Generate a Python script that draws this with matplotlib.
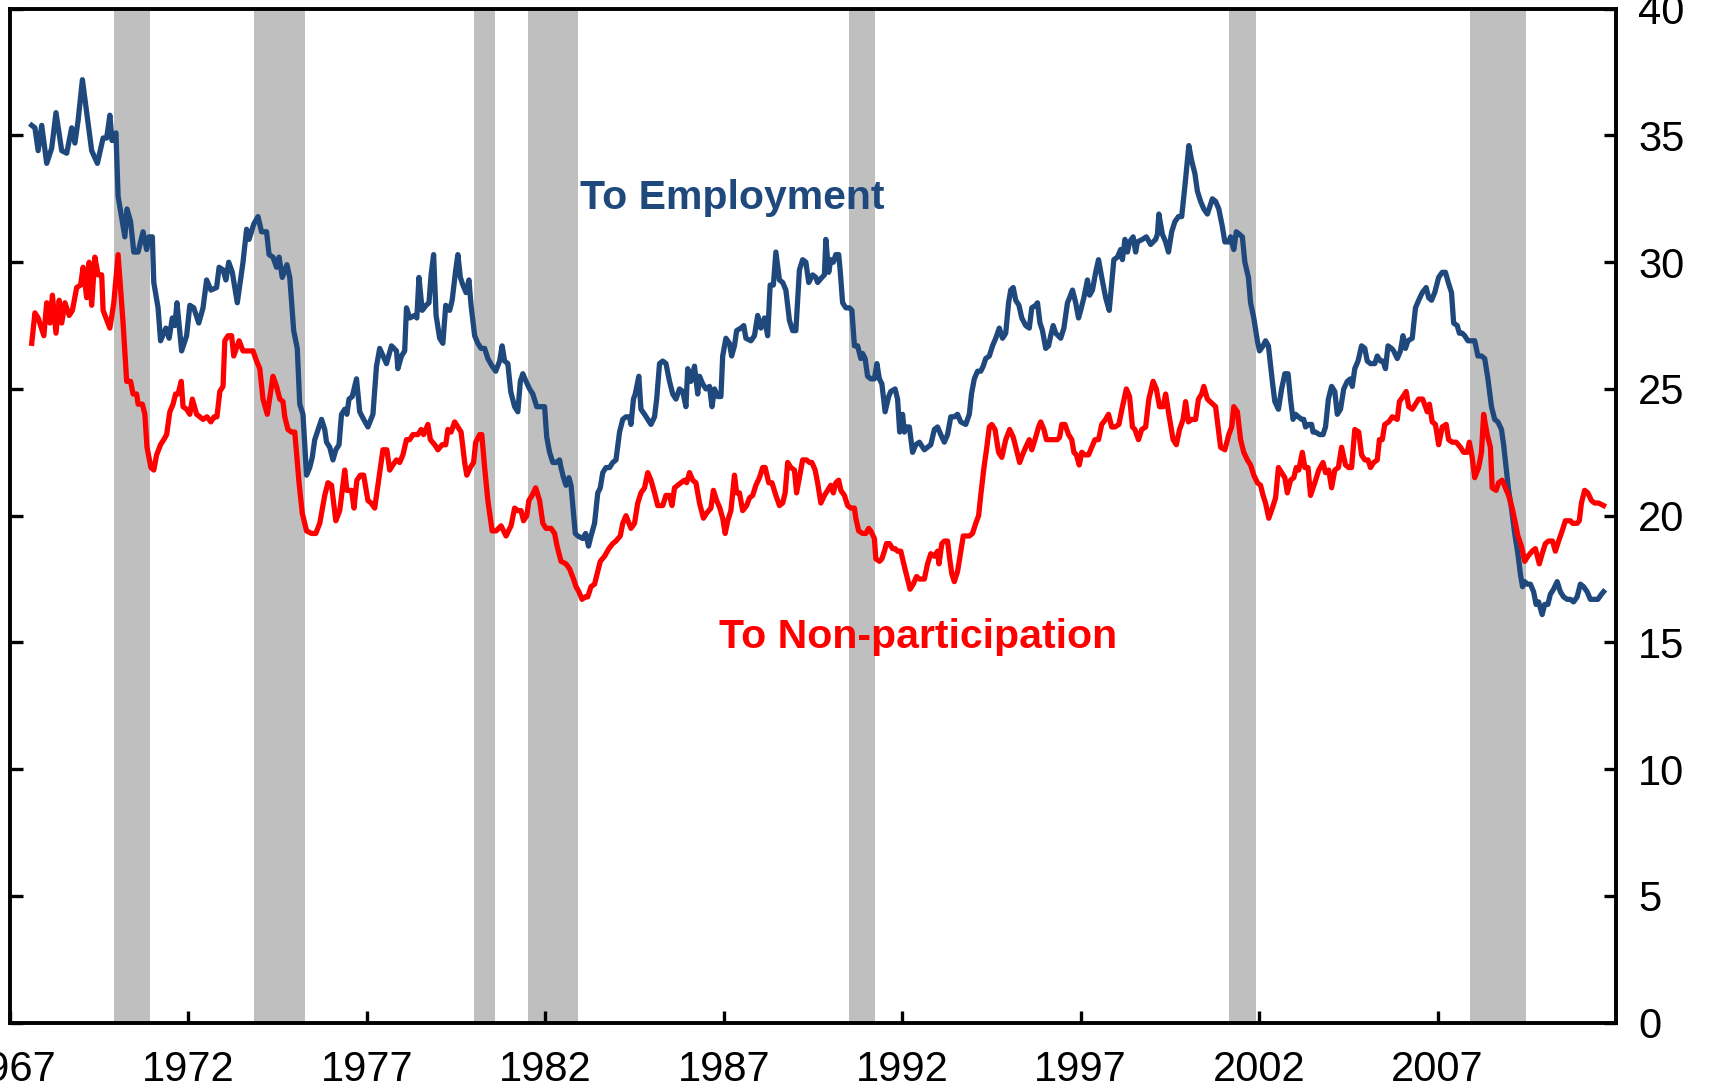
import matplotlib
matplotlib.use("Agg")
import matplotlib.pyplot as plt

plt.rcParams['font.family'] = ['Liberation Sans', 'DejaVu Sans']

# monthly flow rates out of unemployment (percent)
emp_year = [
    1967.61, 1967.70, 1967.79, 1967.89, 1968.03, 1968.17, 1968.29, 1968.45, 1968.59, 1968.73,
    1968.82, 1968.91, 1969.03, 1969.29, 1969.45, 1969.61, 1969.71, 1969.80, 1969.86, 1969.97,
    1970.03, 1970.22, 1970.28, 1970.38, 1970.47, 1970.59, 1970.73, 1970.83, 1970.90, 1970.99,
    1971.03, 1971.15, 1971.22, 1971.37, 1971.46, 1971.55, 1971.62, 1971.68, 1971.81, 1971.95,
    1972.04, 1972.15, 1972.29, 1972.41, 1972.51, 1972.63, 1972.79, 1972.86, 1972.97, 1973.05,
    1973.13, 1973.23, 1973.37, 1973.53, 1973.63, 1973.70, 1973.83, 1973.95, 1974.05, 1974.19,
    1974.26, 1974.37, 1974.47, 1974.54, 1974.63, 1974.76, 1974.84, 1974.95, 1975.05, 1975.12,
    1975.21, 1975.31, 1975.40, 1975.47, 1975.54, 1975.73, 1975.82, 1975.87, 1975.96, 1976.05,
    1976.13, 1976.22, 1976.29, 1976.38, 1976.44, 1976.50, 1976.59, 1976.71, 1976.80, 1976.91,
    1977.03, 1977.17, 1977.27, 1977.36, 1977.55, 1977.69, 1977.83, 1977.87, 1977.97, 1978.06,
    1978.11, 1978.20, 1978.34, 1978.40, 1978.46, 1978.55, 1978.66, 1978.74, 1978.80, 1978.87,
    1978.94, 1979.04, 1979.13, 1979.21, 1979.32, 1979.39, 1979.49, 1979.55, 1979.62, 1979.69,
    1979.78, 1979.86, 1979.92, 1980.02, 1980.11, 1980.20, 1980.30, 1980.39, 1980.51, 1980.61,
    1980.72, 1980.79, 1980.86, 1980.95, 1981.03, 1981.14, 1981.23, 1981.30, 1981.37, 1981.46,
    1981.56, 1981.65, 1981.76, 1981.88, 1981.98, 1982.04, 1982.12, 1982.21, 1982.30, 1982.40,
    1982.44, 1982.51, 1982.58, 1982.66, 1982.72, 1982.77, 1982.84, 1982.91, 1983.05, 1983.13,
    1983.21, 1983.28, 1983.38, 1983.47, 1983.54, 1983.61, 1983.70, 1983.80, 1983.89, 1983.98,
    1984.08, 1984.17, 1984.26, 1984.36, 1984.40, 1984.47, 1984.52, 1984.62, 1984.68, 1984.78,
    1984.87, 1984.96, 1985.06, 1985.12, 1985.20, 1985.29, 1985.38, 1985.48, 1985.57, 1985.66,
    1985.76, 1985.85, 1985.94, 1985.99, 1986.08, 1986.18, 1986.27, 1986.32, 1986.41, 1986.50,
    1986.60, 1986.67, 1986.74, 1986.83, 1986.92, 1986.97, 1987.06, 1987.16, 1987.22, 1987.30,
    1987.36, 1987.48, 1987.56, 1987.62, 1987.76, 1987.86, 1987.95, 1988.04, 1988.14, 1988.23,
    1988.30, 1988.39, 1988.46, 1988.56, 1988.65, 1988.74, 1988.84, 1988.93, 1989.02, 1989.12,
    1989.21, 1989.30, 1989.38, 1989.49, 1989.58, 1989.63, 1989.75, 1989.82, 1989.86, 1989.94,
    1990.00, 1990.07, 1990.14, 1990.22, 1990.26, 1990.33, 1990.42, 1990.52, 1990.59, 1990.66,
    1990.75, 1990.84, 1990.89, 1990.96, 1991.03, 1991.12, 1991.22, 1991.29, 1991.36, 1991.43,
    1991.52, 1991.62, 1991.68, 1991.80, 1991.87, 1991.93, 1992.01, 1992.06, 1992.12, 1992.20,
    1992.29, 1992.38, 1992.48, 1992.62, 1992.71, 1992.80, 1992.90, 1992.99, 1993.08, 1993.18,
    1993.27, 1993.36, 1993.46, 1993.55, 1993.64, 1993.78, 1993.88, 1993.94, 1994.02, 1994.11,
    1994.20, 1994.27, 1994.34, 1994.44, 1994.53, 1994.62, 1994.72, 1994.81, 1994.90, 1994.98,
    1995.04, 1995.11, 1995.18, 1995.27, 1995.35, 1995.46, 1995.56, 1995.63, 1995.74, 1995.79,
    1995.86, 1995.93, 1996.02, 1996.10, 1996.16, 1996.23, 1996.30, 1996.44, 1996.53, 1996.63,
    1996.69, 1996.77, 1996.86, 1996.94, 1997.00, 1997.09, 1997.19, 1997.25, 1997.33, 1997.42,
    1997.50, 1997.59, 1997.70, 1997.80, 1997.87, 1997.93, 1998.03, 1998.12, 1998.17, 1998.24,
    1998.31, 1998.37, 1998.47, 1998.54, 1998.59, 1998.73, 1998.84, 1998.96, 1999.10, 1999.15,
    1999.19, 1999.29, 1999.38, 1999.46, 1999.55, 1999.64, 1999.74, 1999.83, 1999.92, 2000.03,
    2000.11, 2000.20, 2000.27, 2000.36, 2000.45, 2000.55, 2000.69, 2000.78, 2000.87, 2000.97,
    2001.04, 2001.15, 2001.20, 2001.29, 2001.36, 2001.45, 2001.53, 2001.60, 2001.70, 2001.76,
    2001.85, 2001.95, 2002.01, 2002.11, 2002.18, 2002.26, 2002.37, 2002.44, 2002.54, 2002.63,
    2002.72, 2002.81, 2002.88, 2002.95, 2003.02, 2003.10, 2003.19, 2003.25, 2003.30, 2003.39,
    2003.47, 2003.51, 2003.58, 2003.69, 2003.79, 2003.86, 2003.94, 2004.03, 2004.12, 2004.19,
    2004.28, 2004.37, 2004.47, 2004.56, 2004.61, 2004.68, 2004.77, 2004.87, 2004.96, 2005.03,
    2005.12, 2005.24, 2005.31, 2005.40, 2005.47, 2005.54, 2005.61, 2005.71, 2005.77, 2005.87,
    2005.96, 2006.03, 2006.10, 2006.17, 2006.29, 2006.38, 2006.47, 2006.57, 2006.68, 2006.75,
    2006.83, 2006.92, 2007.03, 2007.13, 2007.22, 2007.30, 2007.39, 2007.45, 2007.55, 2007.61,
    2007.69, 2007.76, 2007.85, 2007.97, 2008.04, 2008.13, 2008.23, 2008.32, 2008.41, 2008.51,
    2008.60, 2008.69, 2008.79, 2008.85, 2008.92, 2008.99, 2009.07, 2009.16, 2009.25, 2009.32,
    2009.38, 2009.44, 2009.51, 2009.60, 2009.69, 2009.76, 2009.83, 2009.93, 2010.00, 2010.09,
    2010.16, 2010.25, 2010.35, 2010.44, 2010.53, 2010.63, 2010.72, 2010.81, 2010.91, 2011.00,
    2011.09, 2011.19, 2011.28, 2011.40, 2011.49, 2011.59, 2011.65,
]
emp_rate = [
    35.4, 35.3, 34.4, 35.4, 33.9, 34.5, 35.9, 34.4, 34.3, 35.3,
    34.7, 35.6, 37.2, 34.4, 33.9, 34.9, 34.9, 35.8, 34.8, 35.1,
    32.6, 31.0, 32.1, 31.6, 30.4, 30.4, 31.2, 30.5, 31.0, 31.0,
    29.2, 28.2, 26.9, 27.4, 27.0, 27.8, 27.5, 28.4, 26.5, 27.1,
    28.3, 28.2, 27.6, 28.2, 29.3, 28.9, 29.0, 29.8, 29.7, 29.3,
    30.0, 29.6, 28.4, 30.0, 31.3, 30.9, 31.5, 31.8, 31.2, 31.2,
    30.3, 30.2, 29.8, 30.2, 29.4, 29.9, 29.4, 27.3, 26.6, 24.4,
    24.0, 21.6, 21.9, 22.3, 23.0, 23.8, 23.4, 22.9, 22.7, 22.2,
    22.6, 22.8, 24.0, 24.2, 24.0, 24.6, 24.7, 25.4, 24.1, 23.8,
    23.5, 24.0, 25.9, 26.6, 26.0, 26.7, 26.5, 25.8, 26.3, 26.5,
    28.2, 27.8, 27.9, 27.8, 29.4, 28.1, 28.3, 28.4, 29.5, 30.3,
    27.9, 27.0, 26.8, 28.3, 28.1, 28.5, 29.7, 30.3, 29.4, 29.1,
    28.8, 29.3, 28.3, 27.1, 26.8, 26.6, 26.6, 26.2, 25.9, 25.7,
    26.1, 26.7, 26.1, 26.0, 24.9, 24.3, 24.1, 25.3, 25.6, 25.3,
    25.0, 24.8, 24.3, 24.3, 24.3, 23.1, 22.5, 22.1, 22.1, 22.2,
    21.9, 21.5, 21.2, 21.5, 21.2, 20.4, 19.3, 19.2, 19.1, 19.3,
    18.8, 19.2, 19.7, 20.9, 21.1, 21.7, 21.9, 21.9, 22.1, 22.2,
    23.3, 23.8, 23.9, 23.9, 23.6, 24.6, 24.8, 25.5, 24.2, 24.0,
    23.8, 23.6, 23.9, 24.6, 26.0, 26.1, 26.0, 25.3, 24.8, 24.6,
    25.0, 24.9, 24.3, 25.8, 25.3, 25.9, 24.8, 25.5, 25.2, 25.0,
    25.1, 24.3, 25.0, 24.7, 24.7, 26.3, 27.0, 26.8, 26.3, 26.7,
    27.3, 27.4, 27.5, 27.0, 26.9, 27.1, 27.9, 27.4, 27.8, 27.1,
    29.1, 29.1, 30.4, 29.3, 29.2, 28.9, 27.7, 27.3, 27.3, 29.7,
    30.1, 30.0, 29.2, 29.5, 29.4, 29.2, 29.4, 29.5, 30.9, 29.6,
    30.1, 30.0, 30.3, 30.3, 29.7, 28.4, 28.2, 28.2, 28.1, 26.7,
    26.7, 26.2, 26.4, 26.2, 25.5, 25.4, 25.4, 26.0, 25.4, 25.2,
    24.1, 24.7, 24.9, 25.0, 24.6, 23.3, 24.0, 23.3, 23.5, 23.5,
    22.5, 22.8, 22.9, 22.6, 22.7, 22.8, 23.4, 23.5, 23.2, 22.9,
    23.2, 23.9, 23.9, 24.0, 23.7, 23.6, 24.0, 24.8, 25.4, 25.7,
    25.7, 25.9, 26.2, 26.3, 26.7, 27.0, 27.4, 27.0, 27.2, 28.4,
    28.9, 29.0, 28.5, 28.3, 27.8, 27.5, 27.4, 28.2, 28.3, 28.4,
    27.6, 27.3, 26.6, 26.7, 27.1, 27.5, 27.2, 27.0, 27.4, 28.4,
    28.6, 28.9, 28.4, 27.8, 28.1, 28.6, 29.3, 28.7, 28.9, 29.6,
    30.1, 29.4, 28.6, 28.1, 29.2, 30.1, 30.2, 30.5, 30.1, 30.9,
    30.4, 30.8, 31.0, 30.4, 30.8, 30.9, 31.0, 30.7, 30.9, 31.1,
    31.9, 31.1, 30.8, 30.4, 31.2, 31.6, 31.8, 31.8, 33.0, 34.6,
    34.0, 33.5, 32.8, 32.4, 32.1, 31.9, 32.5, 32.4, 32.1, 31.4,
    30.8, 30.8, 31.0, 30.5, 31.2, 31.1, 31.0, 30.0, 29.4, 28.4,
    27.8, 26.9, 26.5, 26.7, 26.9, 26.7, 25.3, 24.5, 24.2, 25.0,
    25.6, 25.6, 24.6, 23.8, 24.0, 23.9, 23.8, 23.8, 23.5, 23.6,
    23.6, 23.3, 23.3, 23.2, 23.2, 23.5, 24.6, 25.1, 24.9, 24.0,
    24.2, 25.0, 25.3, 25.4, 25.1, 25.8, 26.1, 26.7, 26.6, 26.1,
    26.0, 26.0, 26.3, 26.1, 26.1, 25.8, 26.7, 26.6, 26.5, 26.2,
    26.5, 27.1, 26.6, 26.9, 27.0, 28.2, 28.5, 28.8, 29.0, 28.6,
    28.5, 28.8, 29.4, 29.6, 29.6, 29.2, 28.8, 27.6, 27.5, 27.2,
    27.2, 27.1, 26.9, 26.9, 26.9, 26.3, 26.3, 26.2, 25.4, 24.3,
    23.8, 23.7, 23.4, 22.8, 21.9, 21.0, 20.3, 19.3, 18.5, 17.7,
    17.2, 17.4, 17.3, 17.3, 17.0, 16.5, 16.6, 16.1, 16.5, 16.5,
    16.9, 17.1, 17.4, 17.0, 16.8, 16.7, 16.7, 16.6, 16.8, 17.3,
    17.2, 17.0, 16.7, 16.7, 16.7, 16.9, 17.0,
]

nonpart_year = [
    1967.61, 1967.70, 1967.79, 1967.95, 1968.03, 1968.12, 1968.19, 1968.29, 1968.38, 1968.45,
    1968.54, 1968.66, 1968.75, 1968.87, 1968.98, 1969.05, 1969.15, 1969.22, 1969.29, 1969.38,
    1969.47, 1969.57, 1969.61, 1969.80, 1969.91, 1970.03, 1970.17, 1970.27, 1970.38, 1970.45,
    1970.55, 1970.59, 1970.71, 1970.78, 1970.84, 1970.95, 1971.03, 1971.11, 1971.22, 1971.31,
    1971.39, 1971.48, 1971.57, 1971.64, 1971.71, 1971.80, 1971.85, 1971.95, 1972.04, 1972.11,
    1972.23, 1972.32, 1972.41, 1972.52, 1972.63, 1972.72, 1972.80, 1972.88, 1972.97, 1973.02,
    1973.11, 1973.21, 1973.27, 1973.42, 1973.53, 1973.72, 1973.81, 1973.91, 1974.00, 1974.09,
    1974.21, 1974.37, 1974.47, 1974.56, 1974.65, 1974.70, 1974.79, 1974.89, 1974.98, 1975.10,
    1975.19, 1975.31, 1975.45, 1975.57, 1975.68, 1975.82, 1975.91, 1976.01, 1976.13, 1976.24,
    1976.38, 1976.44, 1976.57, 1976.64, 1976.72, 1976.82, 1976.91, 1977.03, 1977.12, 1977.22,
    1977.34, 1977.45, 1977.56, 1977.64, 1977.73, 1977.83, 1977.92, 1978.01, 1978.11, 1978.20,
    1978.29, 1978.43, 1978.52, 1978.59, 1978.71, 1978.78, 1978.90, 1978.99, 1979.11, 1979.21,
    1979.27, 1979.36, 1979.46, 1979.55, 1979.64, 1979.74, 1979.80, 1979.90, 1979.99, 1980.05,
    1980.16, 1980.22, 1980.30, 1980.39, 1980.51, 1980.62, 1980.76, 1980.90, 1981.04, 1981.14,
    1981.23, 1981.32, 1981.39, 1981.48, 1981.54, 1981.63, 1981.73, 1981.84, 1981.93, 1982.02,
    1982.16, 1982.26, 1982.33, 1982.44, 1982.58, 1982.68, 1982.79, 1982.86, 1982.94, 1983.03,
    1983.12, 1983.19, 1983.28, 1983.38, 1983.47, 1983.54, 1983.66, 1983.78, 1983.89, 1983.98,
    1984.10, 1984.17, 1984.26, 1984.40, 1984.50, 1984.59, 1984.68, 1984.78, 1984.87, 1984.96,
    1985.06, 1985.15, 1985.29, 1985.38, 1985.48, 1985.55, 1985.62, 1985.71, 1985.80, 1985.90,
    1985.96, 1986.04, 1986.13, 1986.22, 1986.32, 1986.43, 1986.52, 1986.64, 1986.71, 1986.80,
    1986.89, 1986.97, 1987.04, 1987.11, 1987.20, 1987.30, 1987.36, 1987.44, 1987.53, 1987.64,
    1987.72, 1987.81, 1987.90, 1988.00, 1988.09, 1988.16, 1988.26, 1988.35, 1988.46, 1988.56,
    1988.65, 1988.72, 1988.79, 1988.88, 1988.98, 1989.04, 1989.13, 1989.21, 1989.32, 1989.40,
    1989.47, 1989.56, 1989.63, 1989.72, 1989.82, 1989.91, 1990.00, 1990.07, 1990.14, 1990.22,
    1990.28, 1990.38, 1990.47, 1990.56, 1990.66, 1990.70, 1990.78, 1990.89, 1990.98, 1991.06,
    1991.12, 1991.22, 1991.26, 1991.36, 1991.43, 1991.50, 1991.56, 1991.64, 1991.73, 1991.80,
    1991.87, 1991.96, 1992.06, 1992.15, 1992.22, 1992.31, 1992.40, 1992.49, 1992.62, 1992.71,
    1992.80, 1992.90, 1992.99, 1993.03, 1993.11, 1993.18, 1993.27, 1993.33, 1993.39, 1993.46,
    1993.55, 1993.64, 1993.71, 1993.80, 1993.88, 1993.97, 1994.06, 1994.14, 1994.20, 1994.29,
    1994.37, 1994.44, 1994.51, 1994.60, 1994.70, 1994.79, 1994.90, 1995.01, 1995.11, 1995.20,
    1995.29, 1995.37, 1995.46, 1995.56, 1995.63, 1995.72, 1995.82, 1995.88, 1995.97, 1996.04,
    1996.13, 1996.23, 1996.35, 1996.41, 1996.47, 1996.56, 1996.66, 1996.75, 1996.81, 1996.88,
    1996.96, 1997.03, 1997.12, 1997.22, 1997.31, 1997.40, 1997.50, 1997.59, 1997.70, 1997.78,
    1997.87, 1997.96, 1998.07, 1998.17, 1998.28, 1998.37, 1998.45, 1998.52, 1998.62, 1998.71,
    1998.82, 1998.91, 1999.03, 1999.12, 1999.21, 1999.31, 1999.38, 1999.47, 1999.59, 1999.68,
    1999.77, 1999.87, 1999.94, 2000.02, 2000.11, 2000.22, 2000.30, 2000.39, 2000.45, 2000.55,
    2000.78, 2000.92, 2001.04, 2001.15, 2001.23, 2001.29, 2001.39, 2001.48, 2001.57, 2001.67,
    2001.76, 2001.85, 2001.95, 2002.04, 2002.11, 2002.18, 2002.27, 2002.37, 2002.46, 2002.54,
    2002.63, 2002.72, 2002.79, 2002.88, 2002.97, 2003.04, 2003.11, 2003.21, 2003.28, 2003.37,
    2003.44, 2003.56, 2003.67, 2003.79, 2003.86, 2003.95, 2004.03, 2004.12, 2004.22, 2004.31,
    2004.42, 2004.51, 2004.59, 2004.68, 2004.79, 2004.87, 2004.96, 2005.05, 2005.12, 2005.21,
    2005.31, 2005.37, 2005.45, 2005.52, 2005.63, 2005.73, 2005.87, 2005.93, 2006.03, 2006.12,
    2006.19, 2006.29, 2006.38, 2006.47, 2006.58, 2006.66, 2006.71, 2006.77, 2006.85, 2006.94,
    2007.03, 2007.13, 2007.24, 2007.31, 2007.41, 2007.52, 2007.64, 2007.73, 2007.83, 2007.89,
    2007.97, 2008.04, 2008.15, 2008.23, 2008.29, 2008.39, 2008.48, 2008.53, 2008.64, 2008.71,
    2008.81, 2008.90, 2008.99, 2009.09, 2009.18, 2009.25, 2009.35, 2009.44, 2009.53, 2009.65,
    2009.74, 2009.85, 2009.93, 2010.02, 2010.11, 2010.22, 2010.30, 2010.39, 2010.49, 2010.58,
    2010.72, 2010.78, 2010.91, 2010.97, 2011.03, 2011.12, 2011.21, 2011.31, 2011.40, 2011.51,
    2011.65,
]
nonpart_rate = [
    26.8, 28.0, 27.8, 27.1, 28.4, 27.6, 28.7, 27.2, 28.5, 27.6,
    28.4, 27.9, 28.1, 29.0, 29.1, 29.8, 28.6, 30.0, 28.3, 30.2,
    29.5, 29.5, 28.1, 27.4, 28.4, 30.3, 27.6, 25.3, 25.3, 24.8,
    24.8, 24.4, 24.4, 24.0, 22.7, 21.9, 21.8, 22.4, 22.8, 23.0,
    23.2, 24.1, 24.4, 24.8, 24.8, 25.3, 24.3, 24.2, 24.0, 24.6,
    24.0, 23.9, 23.8, 23.9, 23.7, 23.9, 23.9, 24.9, 25.1, 26.9,
    27.1, 27.1, 26.3, 26.9, 26.5, 26.5, 26.5, 26.1, 25.8, 24.6,
    24.0, 25.5, 25.1, 24.6, 24.5, 23.9, 23.4, 23.3, 23.3, 21.3,
    20.1, 19.4, 19.3, 19.3, 19.7, 20.8, 21.3, 21.2, 19.8, 20.2,
    21.8, 21.0, 21.0, 20.3, 21.4, 21.6, 21.6, 20.6, 20.5, 20.3,
    21.5, 22.6, 22.6, 21.8, 22.0, 22.2, 22.1, 22.4, 23.0, 23.0,
    23.2, 23.2, 23.4, 23.2, 23.6, 23.0, 22.8, 22.6, 22.8, 22.8,
    23.4, 23.3, 23.7, 23.5, 23.3, 22.1, 21.6, 21.9, 22.1, 22.9,
    23.2, 23.2, 21.9, 20.6, 19.4, 19.4, 19.6, 19.2, 19.6, 20.3,
    20.2, 20.2, 19.8, 20.0, 20.6, 20.8, 21.1, 20.6, 19.7, 19.5,
    19.5, 19.3, 18.8, 18.2, 18.1, 17.9, 17.5, 17.2, 17.0, 16.7,
    16.8, 16.8, 17.2, 17.3, 17.8, 18.2, 18.4, 18.7, 18.9, 19.0,
    19.2, 19.7, 20.0, 19.5, 19.7, 20.5, 20.9, 21.1, 21.7, 21.4,
    20.9, 20.4, 20.4, 20.8, 20.8, 20.4, 21.1, 21.2, 21.3, 21.4,
    21.3, 21.7, 21.4, 21.3, 20.5, 19.9, 20.1, 20.3, 21.0, 20.6,
    20.3, 19.9, 19.3, 19.8, 20.2, 21.6, 20.9, 20.9, 20.2, 20.4,
    20.7, 20.8, 21.2, 21.5, 21.9, 21.9, 21.3, 21.3, 20.8, 20.4,
    20.5, 20.9, 22.1, 21.9, 21.8, 20.9, 21.6, 22.2, 22.2, 22.1,
    22.1, 21.8, 21.3, 20.5, 20.8, 21.0, 21.2, 20.9, 21.3, 21.4,
    21.0, 20.8, 20.4, 20.3, 20.3, 19.9, 19.4, 19.3, 19.3, 19.5,
    19.4, 19.1, 18.3, 18.2, 18.3, 18.6, 18.9, 18.9, 18.7, 18.7,
    18.6, 18.6, 18.0, 17.5, 17.1, 17.3, 17.6, 17.5, 17.5, 18.1,
    18.5, 18.4, 18.6, 18.1, 18.9, 19.0, 19.0, 18.3, 17.7, 17.4,
    17.8, 18.6, 19.2, 19.2, 19.2, 19.3, 19.7, 20.0, 20.8, 21.9,
    22.7, 23.5, 23.6, 23.4, 22.5, 22.3, 23.0, 23.4, 23.1, 22.6,
    22.1, 22.4, 22.7, 23.0, 22.6, 23.0, 23.5, 23.7, 23.4, 23.0,
    23.0, 23.0, 23.0, 23.1, 23.6, 23.6, 23.2, 23.0, 22.5, 22.4,
    22.0, 22.5, 22.4, 22.4, 22.7, 23.0, 23.0, 23.6, 23.8, 24.0,
    23.5, 23.5, 23.6, 24.3, 25.0, 24.7, 23.5, 23.4, 23.0, 23.4,
    23.5, 24.6, 25.3, 25.0, 24.3, 24.3, 24.8, 24.0, 23.0, 22.8,
    23.4, 23.8, 24.5, 23.7, 23.8, 23.8, 24.6, 24.8, 25.1, 24.6,
    24.3, 22.7, 22.6, 23.2, 23.5, 24.3, 24.1, 23.0, 22.5, 22.2,
    22.0, 21.6, 21.3, 21.2, 20.8, 20.5, 19.9, 20.3, 20.7, 21.9,
    21.7, 21.5, 20.9, 21.4, 21.5, 21.9, 21.8, 22.5, 21.9, 21.9,
    20.8, 21.3, 21.8, 22.1, 21.7, 21.8, 21.1, 21.8, 21.9, 22.7,
    22.0, 21.9, 21.9, 23.4, 23.3, 22.4, 22.2, 22.2, 21.9, 22.1,
    22.2, 23.0, 23.0, 23.6, 23.7, 23.9, 23.8, 24.5, 24.7, 24.9,
    24.3, 24.2, 24.4, 24.6, 24.6, 24.3, 24.1, 24.4, 23.7, 23.6,
    22.8, 23.5, 23.6, 23.0, 22.9, 22.9, 22.7, 22.5, 22.5, 22.9,
    22.3, 21.5, 21.9, 22.5, 24.0, 23.2, 22.7, 21.1, 21.0, 21.3,
    21.4, 21.1, 20.8, 20.3, 19.7, 19.2, 18.8, 18.2, 18.4, 18.6,
    18.7, 18.1, 18.5, 18.9, 19.0, 19.0, 18.6, 19.0, 19.4, 19.8,
    19.8, 19.7, 19.7, 19.8, 20.5, 21.0, 20.9, 20.6, 20.5, 20.5,
    20.4,
]

# NBER recessions (shaded)
rec_start = [1969.92, 1973.84, 1980.00, 1981.51, 1990.50, 2001.16, 2007.90]
rec_end = [1970.92, 1975.26, 1980.58, 1982.92, 1991.24, 2001.90, 2009.49]

x_ticks = [1967, 1972, 1977, 1982, 1987, 1992, 1997, 2002, 2007]
y_ticks = [0, 5, 10, 15, 20, 25, 30, 35, 40]

BLUE = '#1F497D'
RED = '#FF0000'

fig = plt.figure(figsize=(17.15, 10.89), dpi=100)
ax = fig.add_axes([0.0058, 0.0609, 0.9365, 0.9311])

for s, e in zip(rec_start, rec_end):
    ax.axvspan(s, e, color='#BFBFBF', lw=0, zorder=1)

ax.plot(emp_year, emp_rate, color=BLUE, lw=3.8, zorder=3)
ax.plot(nonpart_year, nonpart_rate, color=RED, lw=3.8, zorder=4)

ax.text(1982.96, 32.08, 'To Employment', color=BLUE, fontsize=29.5,
        fontweight='bold', va='baseline', ha='left')
ax.text(1986.87, 14.77, 'To Non-participation', color=RED, fontsize=29.5,
        fontweight='bold', va='baseline', ha='left')

ax.set_xlim(1967, 2012)
ax.set_ylim(0, 40)
ax.set_xticks(x_ticks)
ax.set_xticklabels([str(y) for y in x_ticks])
ax.set_yticks(y_ticks)

ax.tick_params(axis='x', direction='in', length=9, width=2.4, labelsize=30,
               pad=20, top=False)
ax.tick_params(axis='y', direction='in', length=9, width=2.4, labelsize=30,
               pad=16, left=True, right=True, labelleft=False, labelright=True)
for sp in ax.spines.values():
    sp.set_linewidth(2.8)

fig.savefig('out.png', dpi=100)
